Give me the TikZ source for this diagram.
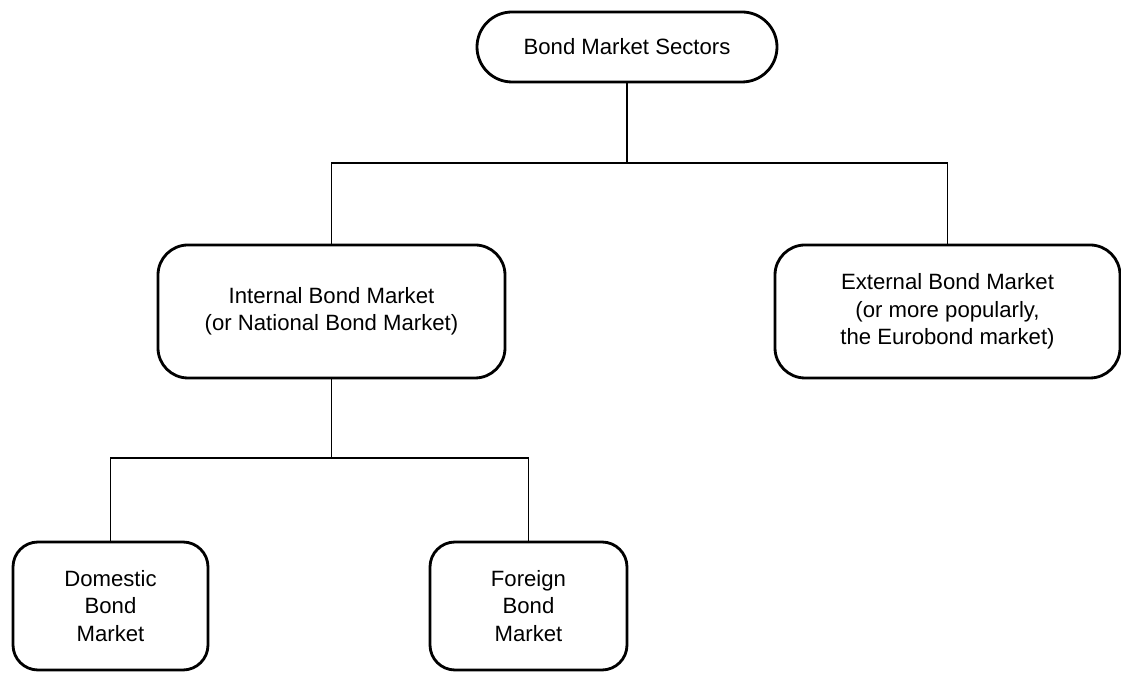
\documentclass[tikz,border=0pt]{standalone}
\usepackage{fontspec}
\setmainfont{Liberation Sans}
\usepackage{tikz}

\begin{document}
\begin{tikzpicture}[
    sector/.style={draw,line width=1.6pt,rounded corners=0.6cm,align=center,
        inner sep=0pt,font=\fontsize{12.6}{15.6}\selectfont},
    link/.style={line width=1.1pt}]
    \useasboundingbox (0,0) rectangle (22.42,13.46);
    \node[sector,minimum width=6cm,minimum height=1.4cm,rounded corners=0.7cm] (sectors) at (12.54,12.52) {Bond Market Sectors};
    \node[sector,minimum width=6.94cm,minimum height=2.66cm] (internal) at (6.63,7.23)
        {Internal Bond Market\\(or National Bond Market)};
    \node[sector,minimum width=6.9cm,minimum height=2.66cm] (external) at (18.95,7.23)
        {External Bond Market\\(or more popularly,\\the Eurobond market)};
    \node[sector,minimum width=3.9cm,minimum height=2.56cm,rounded corners=0.5cm] (domestic) at (2.21,1.34)
        {Domestic\\Bond\\Market};
    \node[sector,minimum width=3.94cm,minimum height=2.56cm,rounded corners=0.5cm] (foreign) at (10.57,1.34)
        {Foreign\\Bond\\Market};
    \coordinate (upper) at (12.54,10.2);
    \coordinate (lower) at (6.63,4.3);
    \draw[link] (sectors) -- (upper);
    \draw[link] (internal.north) |- (upper) -| (external.north);
    \draw[link] (internal) -- (lower);
    \draw[link] (domestic.north) |- (lower) -| (foreign.north);
\end{tikzpicture}
\end{document}
